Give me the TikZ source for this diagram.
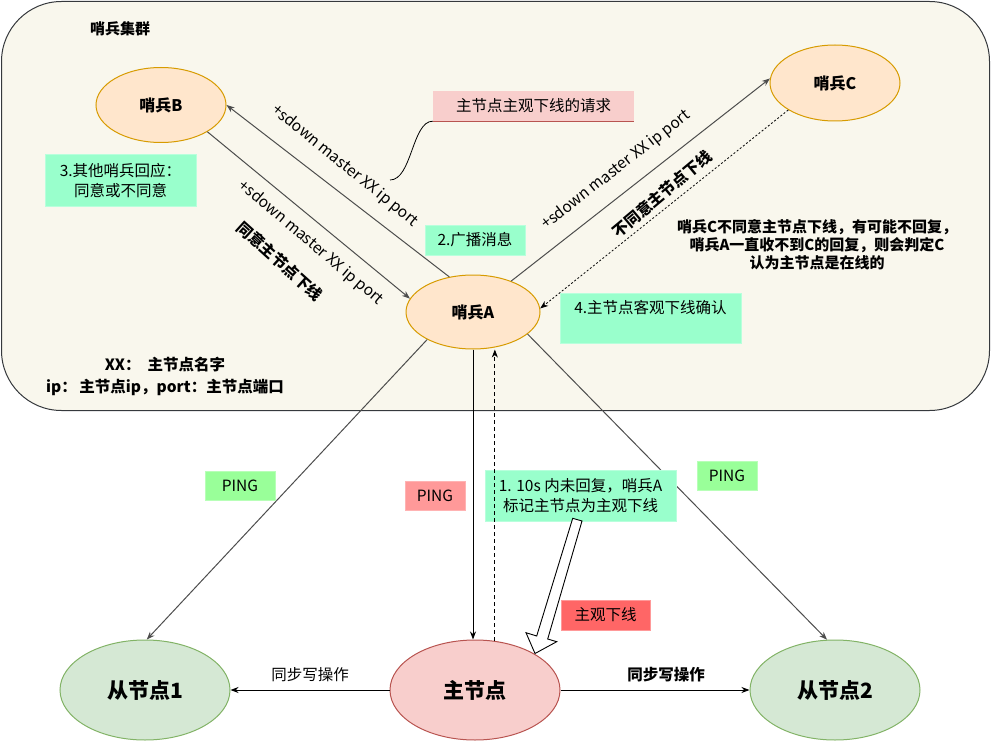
\documentclass[tikz,border=0pt]{standalone}
\usepackage{fontspec}
\setmainfont{Noto Sans CJK SC}
\usetikzlibrary{shapes.geometric,arrows.meta,calc}
\definecolor{bgc}{HTML}{F9F7ED}
\definecolor{framec}{HTML}{36393D}
\definecolor{sentf}{HTML}{FFE6CC}
\definecolor{sentd}{HTML}{D79B00}
\definecolor{slavef}{HTML}{D5E8D4}
\definecolor{slaved}{HTML}{82B366}
\definecolor{masterf}{HTML}{F8CECC}
\definecolor{masterd}{HTML}{B85450}
\definecolor{mintf}{HTML}{99FFCC}
\definecolor{mintd}{HTML}{B8FFDC}
\definecolor{pinggf}{HTML}{99FF99}
\definecolor{pinggd}{HTML}{B8FFB8}
\definecolor{pingrf}{HTML}{FF9999}
\definecolor{pingrd}{HTML}{FFB3B3}
\definecolor{subjf}{HTML}{FF6666}
\definecolor{subjd}{HTML}{FF9999}
\definecolor{edgec}{HTML}{4D4D4D}
\begin{document}
\begin{tikzpicture}[x=1pt,y=-1pt,
  sentinel/.style={ellipse, draw=sentd, fill=sentf, line width=1pt, minimum width=130pt, minimum height=75pt, inner sep=0pt, font=\bfseries\fontsize{16}{19}\selectfont},
  datanode/.style={ellipse, line width=1pt, minimum width=170pt, minimum height=100pt, inner sep=0pt, font=\bfseries\fontsize{21}{25}\selectfont},
  lbl/.style={font=\fontsize{15.5}{18}\selectfont, inner sep=1pt},
  blbl/.style={font=\bfseries\fontsize{15.5}{18}\selectfont, inner sep=1pt},
  mintbox/.style={fill=mintf, draw=mintd, line width=1pt, inner sep=0pt, font=\fontsize{15.5}{20}\selectfont},
  pingbox/.style={line width=1pt, inner sep=0pt, minimum height=29pt, font=\fontsize{15.5}{18}\selectfont},
  edge/.style={draw=edgec, line width=1pt, -{Stealth[length=8pt,width=6pt,inset=2.5pt]}},
  kedge/.style={draw=black, line width=1pt, -{Stealth[length=8pt,width=6pt,inset=2.5pt]}}
]
\useasboundingbox (0,0) rectangle (991,741);

% cluster frame
\node[draw=framec, fill=bgc, rounded corners=60pt, line width=1pt, minimum width=988pt, minimum height=409pt, inner sep=0pt] (cluster) at (495.5,206) {};
\node[font=\bfseries\fontsize{15}{18}\selectfont] (title) at (120,29) {哨兵集群};

% sentinels
\node[sentinel] (B) at (161,105) {哨兵B};
\node[sentinel, minimum height=76pt] (C) at (835,83) {哨兵C};
\node[sentinel, minimum width=134pt, minimum height=74pt] (A) at (473,312) {哨兵A};

% data nodes
\node[datanode, fill=slavef, draw=slaved] (S1) at (145,690) {从节点1};
\node[datanode, fill=masterf, draw=masterd] (M) at (475,690) {主节点};
\node[datanode, fill=slavef, draw=slaved] (S2) at (835,690) {从节点2};

% sentinel edges
\draw[edge] (A.124) -- (B.0);
\draw[edge] (B.330) -- (A.168);
\draw[edge] (A.39) -- (C.176);
\draw[draw=black, line width=0.8pt, dash pattern=on 2pt off 2pt, -{Stealth[length=8pt,width=6pt,inset=2.5pt]}] (C.210) -- (A.3);

% ping edges
\draw[edge] (A.211) -- (S1.88);
\draw[kedge] (A.south) -- (A.south |- M.north);
\draw[edge] (A.338) -- (S2.99);

% sync edges
\draw[kedge] (M.west) -- (S1.east);
\draw[kedge] (M.east) -- (S2.west);
\node[lbl] (sync1) at (310,675) {同步写操作};
\node[blbl] (sync2) at (666,675) {同步写操作};

% edge labels
\node[lbl, rotate=-39] (l1) at (345,166) {+sdown master XX ip port};
\node[lbl, rotate=-40] (l2) at (311,243) {+sdown master XX ip port};
\node[blbl, rotate=-42] (l3) at (280,261) {同意主节点下线};
\node[lbl, rotate=38] (l4) at (616,170) {+sdown master XX ip port};
\node[blbl, rotate=40] (l5) at (662,194) {不同意主节点下线};

% note on the right
\node[blbl, align=center, font=\bfseries\fontsize{15}{18}\selectfont] (note) at (817,245) {哨兵C不同意主节点下线，有可能不回复，\\哨兵A一直收不到C的回复，则会判定C\\认为主节点是在线的};

% legend
\node[blbl, align=center, font=\bfseries\fontsize{15.5}{22}\selectfont] (legend) at (165,376) {XX：\ \ 主节点名字\\ip：\,主节点ip，port：主节点端口};

% request box with curve
\node[fill=masterf, minimum width=201pt, minimum height=30pt, inner sep=0pt, font=\fontsize{15.5}{18}\selectfont] (req) at (533.5,106) {主节点主观下线的请求};
\draw[draw=masterd, line width=1pt] (req.south west) -- (req.south east);
\coordinate (cend) at (390,180);
\draw[line width=0.8pt] (req.south west) .. controls (412,121) and (412,180) .. (cend);

% step boxes
\node[mintbox, minimum width=100pt, minimum height=30pt] (b2) at (475,240) {2.广播消息};
\node[mintbox, minimum width=151pt, minimum height=51pt, align=center] (b3) at (120.5,180.5) {3.其他哨兵回应：\\同意或不同意};
\node[mintbox, minimum width=181pt, minimum height=50pt] (b4) at (650.5,318) {};
\node[lbl] (t4) at ($(b4.north)+(0,15)$) {4.主节点客观下线确认};
\node[mintbox, minimum width=191pt, minimum height=51pt, align=center] (b1) at (580.5,495.5) {1. 10s 内未回复，哨兵A\\标记主节点为主观下线};

% ping boxes
\node[pingbox, fill=pinggf, draw=pinggd, minimum width=70pt] (p1) at (240,485.5) {PING};
\node[pingbox, fill=pingrf, draw=pingrd, minimum width=60pt] (p2) at (435,495.5) {PING};
\node[pingbox, fill=pinggf, draw=pinggd, minimum width=60pt] (p3) at (727,475.5) {PING};
\node[pingbox, fill=subjf, draw=subjd, minimum width=89pt, minimum height=30pt] (p4) at (605.5,615) {主观下线};

% dashed return from master to A
\draw[draw=black, line width=0.8pt, dash pattern=on 4pt off 3pt, -{Stealth[length=8pt,width=6pt,inset=2.5pt]}] (M.68) -- (M.68 |- A.south);

% block arrow
\draw[fill=white, line width=0.9pt, line join=miter] (572.7,518.3) -- (536.7,636) -- (526,632.7) -- (535,653.5) -- (556.7,641.7) -- (547.7,639) -- (582,521) -- cycle;
\end{tikzpicture}
\end{document}
